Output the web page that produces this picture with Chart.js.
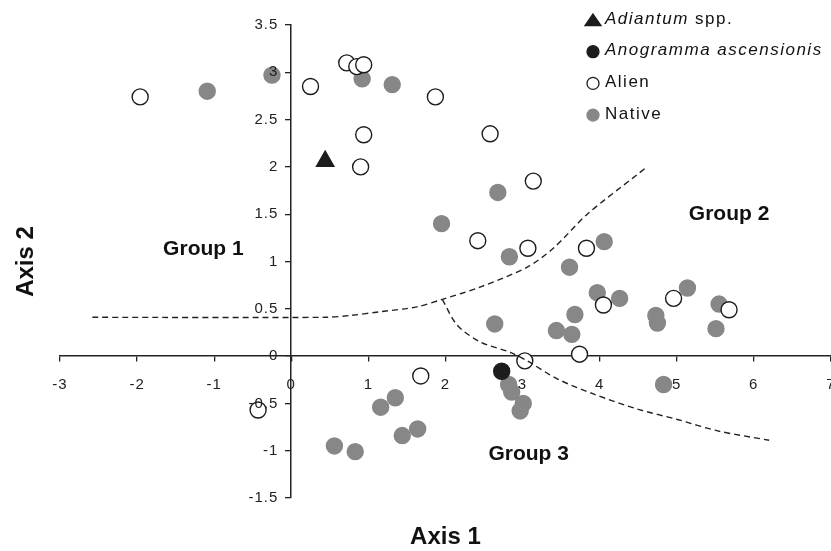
<!DOCTYPE html>
<html>
<head>
<meta charset="utf-8">
<script src="https://cdn.jsdelivr.net/npm/chart.js@4/dist/chart.umd.min.js"></script>
<style>
  html, body { margin: 0; padding: 0; background: #fff; overflow: hidden; }
  #wrap { width: 831px; height: 551px; overflow: hidden; }
</style>
</head>
<body>
<div id="wrap"><canvas id="chart" width="850" height="551"></canvas></div>
<script>
const xTicks = [-3, -2, -1, 0, 1, 2, 3, 4, 5, 6, 7];
const yTicks = [-1.5, -1, -0.5, 0, 0.5, 1, 1.5, 2, 2.5, 3, 3.5];

const adiantum = [{ x: 0.44, y: 2.06 }];
const anogramma = [{ x: 2.73, y: -0.16 }];

const alien = [
  { x: -1.96, y: 2.74 }, { x: 0.25, y: 2.85 }, { x: 0.72, y: 3.10 }, { x: 0.85, y: 3.06 },
  { x: 0.94, y: 3.08 }, { x: 0.94, y: 2.34 }, { x: 0.90, y: 2.00 }, { x: 1.87, y: 2.74 },
  { x: 2.58, y: 2.35 }, { x: 3.14, y: 1.85 }, { x: 2.42, y: 1.22 }, { x: 3.07, y: 1.14 },
  { x: 3.83, y: 1.14 }, { x: 4.05, y: 0.54 }, { x: 4.96, y: 0.61 }, { x: 5.68, y: 0.49 },
  { x: 3.03, y: -0.05 }, { x: 3.74, y: 0.02 }, { x: 1.68, y: -0.21 }, { x: -0.43, y: -0.57 },
];

const native = [
  { x: -1.09, y: 2.80 }, { x: -0.25, y: 2.97 }, { x: 0.92, y: 2.93 }, { x: 1.31, y: 2.87 },
  { x: 2.68, y: 1.73 }, { x: 1.95, y: 1.40 }, { x: 2.83, y: 1.05 }, { x: 4.06, y: 1.21 },
  { x: 3.61, y: 0.94 }, { x: 3.97, y: 0.67 }, { x: 4.26, y: 0.61 }, { x: 3.68, y: 0.44 },
  { x: 3.44, y: 0.27 }, { x: 3.64, y: 0.23 }, { x: 2.64, y: 0.34 }, { x: 4.73, y: 0.43 },
  { x: 4.75, y: 0.35 }, { x: 5.14, y: 0.72 }, { x: 5.55, y: 0.55 }, { x: 5.51, y: 0.29 },
  { x: 4.83, y: -0.30 }, { x: 2.82, y: -0.30 }, { x: 2.86, y: -0.38 }, { x: 3.01, y: -0.50 },
  { x: 2.97, y: -0.58 }, { x: 1.16, y: -0.54 }, { x: 1.35, y: -0.44 }, { x: 1.44, y: -0.84 },
  { x: 1.64, y: -0.77 }, { x: 0.56, y: -0.95 }, { x: 0.83, y: -1.01 },
];

// dashed group boundaries
const boundaryUpper = [
  { x: -2.58, y: 0.41 }, { x: 0.44, y: 0.41 }, { x: 0.77, y: 0.43 }, { x: 1.16, y: 0.47 },
  { x: 1.63, y: 0.52 }, { x: 1.96, y: 0.60 }, { x: 2.45, y: 0.73 }, { x: 3.06, y: 0.94 },
  { x: 3.40, y: 1.14 }, { x: 3.84, y: 1.50 }, { x: 4.49, y: 1.92 }, { x: 4.60, y: 1.99 },
];
const boundaryLower = [
  { x: 1.96, y: 0.60 }, { x: 2.15, y: 0.33 }, { x: 2.45, y: 0.15 }, { x: 2.84, y: 0.04 },
  { x: 3.06, y: -0.05 }, { x: 3.45, y: -0.24 }, { x: 3.92, y: -0.40 }, { x: 4.49, y: -0.56 },
  { x: 5.01, y: -0.67 }, { x: 5.53, y: -0.79 }, { x: 6.20, y: -0.89 },
];

const groupLabels = [
  { text: 'Group 1', x: -1.14, y: 1.13 },
  { text: 'Group 2', x: 5.68, y: 1.50 },
  { text: 'Group 3', x: 3.08, y: -1.04 },
];

const legendItems = [
  { key: 'adiantum', parts: [['Adiantum', true], [' spp.', false]] },
  { key: 'anogramma', parts: [['Anogramma ascensionis', true]] },
  { key: 'alien', parts: [['Alien', false]] },
  { key: 'native', parts: [['Native', false]] },
];

const FONT = "'Liberation Sans', Arial, sans-serif";
const INK = '#1c1c1c';
const GREY = '#878787';

const styles = {
  adiantum: { shape: 'triangle', fill: INK, stroke: INK },
  anogramma: { shape: 'circle', fill: INK, stroke: INK },
  alien: { shape: 'circle', fill: '#fff', stroke: INK },
  native: { shape: 'circle', fill: GREY, stroke: GREY },
};

function marker(ctx, shape, x, y, fill, stroke) {
  ctx.save();
  ctx.beginPath();
  if (shape === 'triangle') {
    ctx.moveTo(x, y - 6);
    ctx.lineTo(x + 8, y + 5.5);
    ctx.lineTo(x - 8, y + 5.5);
    ctx.closePath();
  } else {
    ctx.arc(x, y, 6, 0, Math.PI * 2);
  }
  ctx.fillStyle = fill;
  ctx.fill();
  ctx.lineWidth = 1.3;
  ctx.strokeStyle = stroke;
  ctx.stroke();
  ctx.restore();
}

const annotate = {
  id: 'annotate',
  beforeDraw(chart) {
    chart.ctx.letterSpacing = '1px';
  },
  afterDraw(chart) {
    const { ctx, chartArea, scales } = chart;
    ctx.save();
    ctx.fillStyle = '#222';
    ctx.textBaseline = 'middle';

    // y tick labels, set off to the left of the axis at x = 0
    ctx.letterSpacing = '1px';
    ctx.font = '15px ' + FONT;
    ctx.textAlign = 'right';
    const axisX = scales.x.getPixelForValue(0);
    yTicks.forEach((v) => {
      ctx.fillText(String(v), axisX - 13, scales.y.getPixelForValue(v));
    });

    ctx.fillStyle = '#111';
    ctx.textAlign = 'center';
    ctx.letterSpacing = '0px';
    ctx.font = 'bold 21px ' + FONT;
    groupLabels.forEach((g) => {
      ctx.fillText(g.text, scales.x.getPixelForValue(g.x), scales.y.getPixelForValue(g.y));
    });

    ctx.font = 'bold 24px ' + FONT;
    ctx.fillText('Axis 1', (chartArea.left + chartArea.right) / 2, 537);
    ctx.save();
    ctx.translate(26, (chartArea.top + chartArea.bottom) / 2);
    ctx.rotate(-Math.PI / 2);
    ctx.fillText('Axis 2', 0, 0);
    ctx.restore();

    // legend
    ctx.textAlign = 'left';
    ctx.letterSpacing = '1.5px';
    legendItems.forEach((item, i) => {
      const y = 19 + i * 31.7;
      const s = styles[item.key];
      marker(ctx, s.shape, 593, y + 1, s.fill, s.stroke);
      let x = 605;
      item.parts.forEach(([txt, italic]) => {
        ctx.font = (italic ? 'italic ' : '') + '17px ' + FONT;
        ctx.fillText(txt, x, y);
        x += ctx.measureText(txt).width;
      });
    });
    ctx.restore();
  },
};

const pointSet = (label, data, key, radius, order) => ({
  type: 'scatter',
  label,
  data,
  order,
  pointStyle: styles[key].shape,
  pointRadius: radius,
  pointHoverRadius: radius,
  pointBackgroundColor: styles[key].fill,
  pointBorderColor: styles[key].stroke,
  pointBorderWidth: 1.4,
});

const lineSet = (data) => ({
  type: 'line',
  data,
  order: 0,
  borderColor: '#222',
  borderWidth: 1.4,
  borderDash: [6, 4],
  pointRadius: 0,
  fill: false,
  tension: 0.3,
});

new Chart(document.getElementById('chart'), {
  type: 'scatter',
  data: {
    datasets: [
      lineSet(boundaryUpper),
      lineSet(boundaryLower),
      pointSet('Adiantum spp.', adiantum, 'adiantum', 10, 1),
      pointSet('Anogramma ascensionis', anogramma, 'anogramma', 8, 2),
      pointSet('Alien', alien, 'alien', 8, 3),
      pointSet('Native', native, 'native', 8, 4),
    ],
  },
  options: {
    responsive: false,
    animation: false,
    layout: { autoPadding: false, padding: { top: 25, left: 60, right: 1, bottom: 53 } },
    plugins: { legend: { display: false }, tooltip: { enabled: false } },
    scales: {
      x: {
        type: 'linear',
        min: -3,
        max: 7,
        position: { y: 0 },
        afterBuildTicks: (s) => { s.ticks = xTicks.map((v) => ({ value: v })); },
        grid: { drawOnChartArea: false, drawTicks: true, tickLength: 5, color: '#222', lineWidth: 1.3 },
        border: { display: true, color: '#222', width: 1.5 },
        ticks: { color: '#222', font: { family: FONT, size: 15 }, padding: 15, autoSkip: false, maxRotation: 0, callback: (v) => String(v) },
      },
      y: {
        type: 'linear',
        min: -1.5,
        max: 3.5,
        position: { x: 0 },
        afterBuildTicks: (s) => { s.ticks = yTicks.map((v) => ({ value: v })); },
        grid: { drawOnChartArea: false, drawTicks: true, tickLength: 5, color: '#222', lineWidth: 1.3 },
        border: { display: true, color: '#222', width: 1.5 },
        ticks: { display: false },
      },
    },
  },
  plugins: [annotate],
});
</script>
</body>
</html>
